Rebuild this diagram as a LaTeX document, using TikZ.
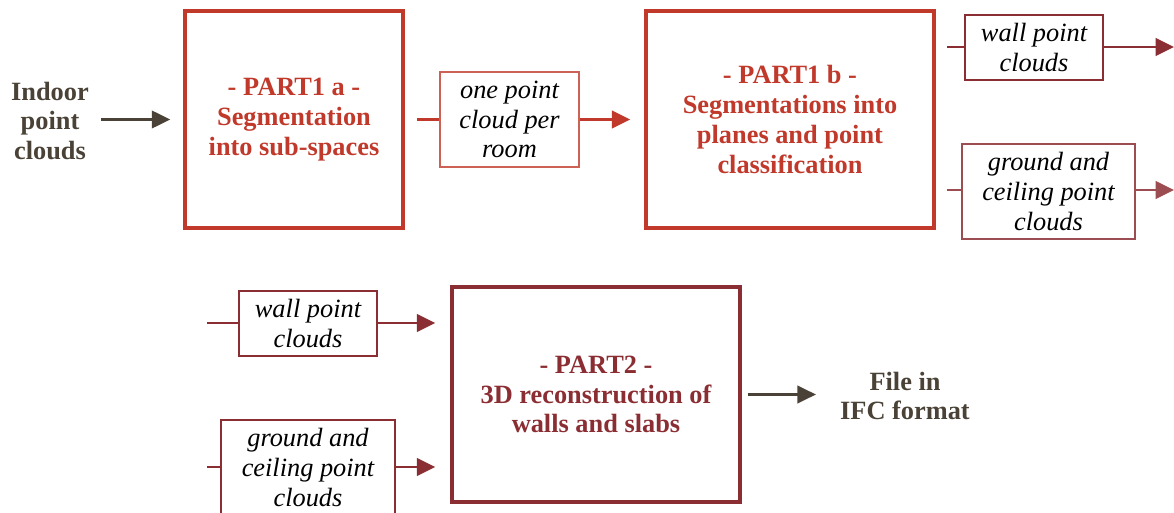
\documentclass[tikz,border=0pt]{standalone}
\usepackage{fontspec}
\setmainfont{Liberation Serif}
\usetikzlibrary{arrows.meta}

\definecolor{partred}{RGB}{192,57,43}
\definecolor{partdark}{RGB}{139,46,51}
\definecolor{inkdark}{RGB}{74,66,54}

\begin{document}
\begin{tikzpicture}[x=0.02cm,y=-0.02cm,
    every node/.style={font=\fontsize{15}{17}\selectfont,align=center,inner sep=0pt},
    partbox/.style={draw,line width=2pt,minimum width=4.36cm,minimum height=4.34cm,font=\fontsize{15}{17}\selectfont\bfseries},
    cloudbox/.style={draw,line width=0.8pt,inner xsep=4pt,inner ysep=3pt,text=black,font=\fontsize{15}{17}\selectfont\itshape},
    endtext/.style={text=inkdark,font=\fontsize{15}{17}\selectfont\bfseries},
    link/.style={line width=1.6pt},
    flow/.style={line width=1.6pt,-{Triangle[length=10.5pt,width=10pt]}}]
    \useasboundingbox (0,0) rectangle (1174,513);
    % part 1
    \node[endtext] (indoor) at (50,121) {Indoor\\point\\clouds};
    \node[partbox,draw=partred,text=partred] (parta) at (294,119.5) {- PART1 a -\\Segmentation\\into sub-spaces};
    \node[cloudbox,draw=partred!80,minimum width=2.78cm,minimum height=1.9cm] (room) at (509.5,119.5) {one point\\cloud per\\room};
    \node[partbox,draw=partred,text=partred,minimum width=5.76cm] (partb) at (790,119.5) {- PART1 b -\\Segmentations into\\planes and point\\classification};
    \node[cloudbox,draw=partdark,minimum width=2.76cm,minimum height=1.3cm] (walla) at (1034,47.5) {wall point\\clouds};
    \node[cloudbox,draw=partdark!85,minimum width=3.46cm,minimum height=1.9cm] (grounda) at (1048.5,191.5) {ground and\\ceiling point\\clouds};
    \coordinate (wallin) at (947,47);
    \coordinate (wallout) at (1174,47);
    \coordinate (groundin) at (947,190);
    \coordinate (groundout) at (1174,190);
    \draw[flow,inkdark,line width=1.2pt,shorten <=0.24cm,shorten >=0.26cm] (indoor.east |- parta) -- (parta.west);
    \draw[link,partred,shorten <=0.24cm] (parta.east) -- (room.west);
    \draw[flow,partred,shorten >=0.28cm] (room.east) -- (partb.west);
    \draw[link,partdark] (wallin) -- (wallin -| walla.west);
    \draw[flow,partdark] (walla.east |- wallout) -- (wallout);
    \draw[link,partdark!85] (groundin) -- (groundin -| grounda.west);
    \draw[flow,partdark!85] (grounda.east |- groundout) -- (groundout);
    % part 2
    \node[cloudbox,draw=partdark,minimum width=2.76cm,minimum height=1.3cm] (wallb) at (308,323.5) {wall point\\clouds};
    \node[cloudbox,draw=partdark,minimum width=3.48cm,minimum height=1.9cm] (groundb) at (308,467.5) {ground and\\ceiling point\\clouds};
    \node[partbox,draw=partdark,text=partdark,minimum width=5.76cm,minimum height=4.3cm] (partc) at (596,394.5) {- PART2 -\\3D reconstruction of\\walls and slabs};
    \node[endtext] (ifc) at (905,396) {File in\\IFC format};
    \coordinate (wallbin) at (207,323);
    \coordinate (groundbin) at (207,467);
    \draw[link,partdark] (wallbin) -- (wallb.west |- wallbin);
    \draw[flow,partdark,shorten >=0.3cm] (wallb.east |- wallbin) -- (partc.west |- wallbin);
    \draw[link,partdark] (groundbin) -- (groundb.west |- groundbin);
    \draw[flow,partdark,shorten >=0.3cm] (groundb.east |- groundbin) -- (partc.west |- groundbin);
    \draw[flow,inkdark,line width=1.2pt,shorten <=0.12cm,shorten >=0.48cm] (partc.east) -- (ifc.west |- partc.east);
\end{tikzpicture}
\end{document}
